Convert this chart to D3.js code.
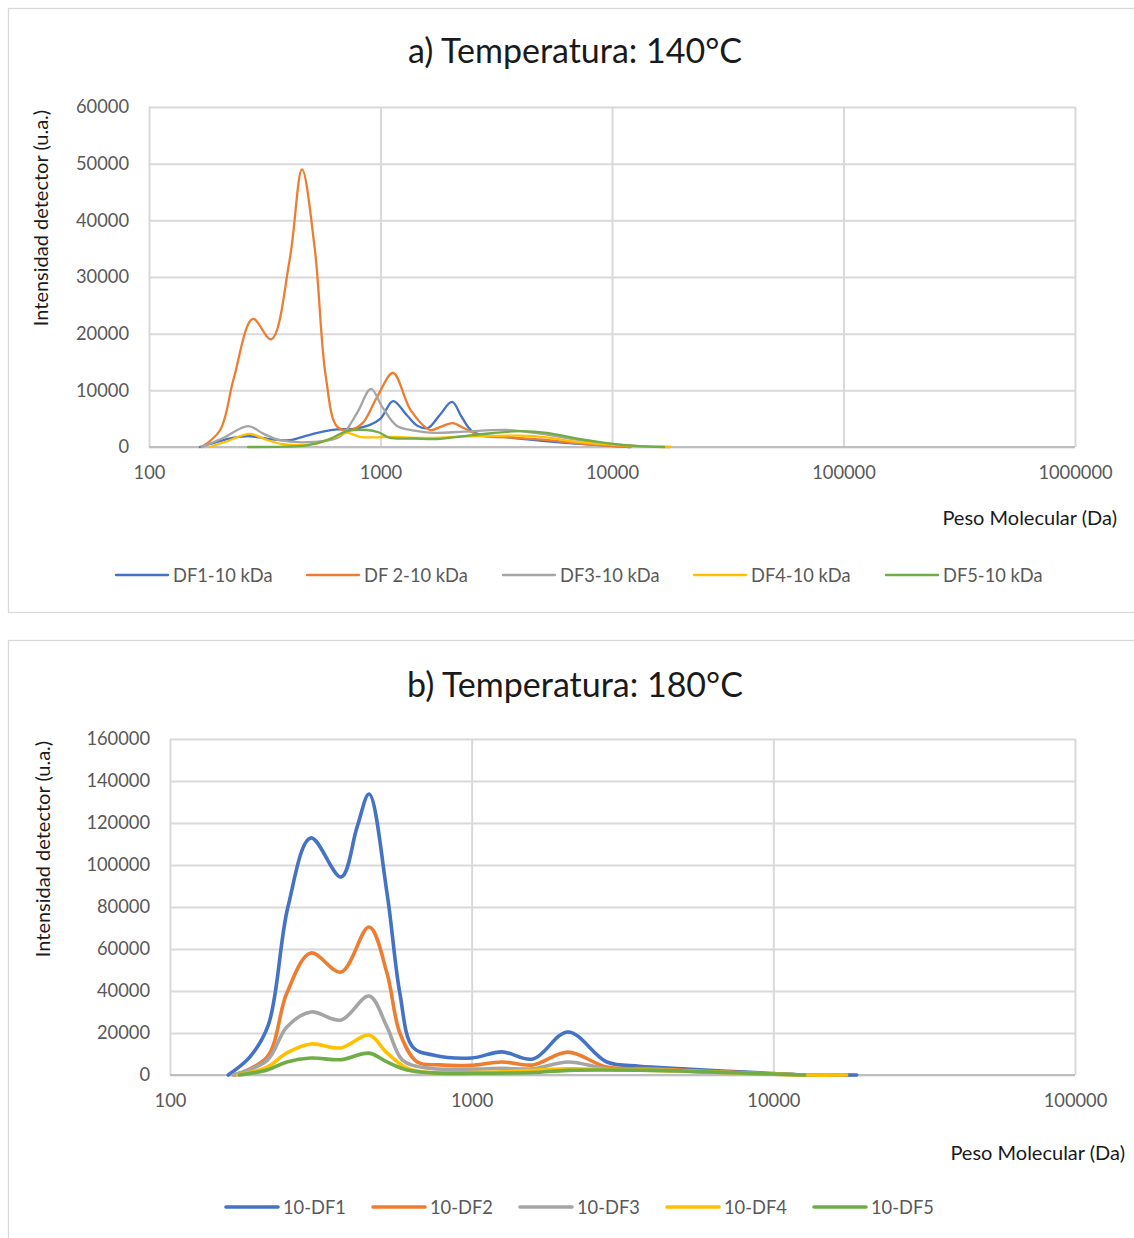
<!DOCTYPE html>
<html>
<head>
<meta charset="utf-8">
<script src="https://cdn.jsdelivr.net/npm/d3@7"></script>
<style>
  html, body { margin: 0; padding: 0; background: #fff; }
  svg { display: block; }
  text { font-family: Lato, "Open Sans", sans-serif; }
</style>
</head>
<body>
<svg id="chart" width="1134" height="1238"></svg>
<script>
// ---- Panel a) 140 °C : molecular weight (Da) vs detector intensity ----
const namesA = ["DF1-10 kDa", "DF 2-10 kDa", "DF3-10 kDa", "DF4-10 kDa", "DF5-10 kDa"];
const df1_140 = [[166,0],[197,900],[230,1600],[273,1900],[330,1400],[406,1200],[480,2000],[564,2700],[650,3100],[761,3200],[900,3900],[1000,5000],[1133,8100],[1300,5600],[1450,3700],[1603,3350],[1800,5600],[2037,7950],[2250,5200],[2513,2650],[3516,1750],[5000,1100],[7000,600],[9500,250],[12000,0]];
const df2_140 = [[169,0],[203,3000],[232,12000],[281,22600],[337,19000],[405,33000],[458,49000],[520,35000],[580,12500],[650,3600],[740,3000],[840,4300],[966,8800],[1133,13060],[1350,6500],[1637,3000],[1850,3700],[2054,4200],[2300,3300],[2700,2000],[3500,1700],[5000,1300],[7000,700],[9500,250],[12000,0]];
const df3_140 = [[169,0],[209,1600],[268,3700],[310,2400],[368,1200],[511,900],[667,1800],[792,6000],[910,10240],[1020,7000],[1178,3700],[1400,2900],[1688,2500],[2300,2700],[3516,3000],[5000,2300],[7000,1300],[10000,500],[14000,120],[17800,0]];
const df4_140 = [[183,0],[217,1000],[273,2300],[320,1300],[379,500],[511,500],[624,1600],[716,2500],[815,1800],[930,1700],[1133,1800],[1500,1600],[2500,1900],[4000,2000],[5200,1700],[6770,1000],[9500,450],[13000,120],[17800,0]];
const df5_140 = [[268,0],[380,50],[481,300],[588,1200],[716,2800],[875,3000],[980,2600],[1100,1600],[1400,1500],[1754,1400],[2500,2100],[4000,2800],[5240,2500],[7000,1500],[9500,700],[13000,150],[16800,0]];
const seriesA = [df1_140, df2_140, df3_140, df4_140, df5_140];
const yTicksA = [0, 10000, 20000, 30000, 40000, 50000, 60000];
const xTicksA = [100, 1000, 10000, 100000, 1000000];

// ---- Panel b) 180 °C ----
const namesB = ["10-DF1", "10-DF2", "10-DF3", "10-DF4", "10-DF5"];
const df1_180 = [[156,0],[184,8600],[212,24000],[246,80000],[293,112900],[369,94300],[417,118000],[457,133800],[524,86700],[578,39000],[638,13300],[745,9500],[1000,8100],[1260,11000],[1596,7600],[2085,20500],[2806,6200],[3600,4200],[5000,3000],[7000,1800],[10000,700],[13000,0],[18900,0]];
const df2_180 = [[164,0],[210,8600],[244,39000],[293,58100],[369,49000],[457,70500],[524,48500],[578,20000],[660,6200],[783,4800],[990,4600],[1260,6200],[1596,4800],[2085,10900],[2806,3800],[4000,3000],[6000,1800],[10000,500],[12500,0]];
const df3_180 = [[162,0],[210,7000],[244,22900],[293,30000],[369,26200],[457,37600],[524,22900],[590,7100],[710,3300],[1000,2800],[1260,3200],[1596,2900],[2085,6200],[2806,3000],[4000,2500],[6000,1500],[10000,400],[12500,0]];
const df4_180 = [[168,0],[210,3800],[244,10500],[293,14800],[369,12900],[457,19000],[524,10500],[610,3300],[745,1000],[1000,1200],[1260,1500],[2085,3000],[3000,2500],[5000,2000],[7000,1200],[10000,400],[12700,0],[17500,0]];
const df5_180 = [[170,0],[210,2400],[244,6200],[293,8100],[369,7300],[457,10400],[524,6200],[610,2400],[745,1000],[1000,800],[1600,1200],[2085,2200],[4000,2200],[6000,1500],[10000,500],[12700,0]];
const seriesB = [df1_180, df2_180, df3_180, df4_180, df5_180];
const yTicksB = [0, 20000, 40000, 60000, 80000, 100000, 120000, 140000, 160000];
const xTicksB = [100, 1000, 10000, 100000];

const palette = ["#4472C4", "#ED7D31", "#A5A5A5", "#FFC000", "#70AD47"];

const svg = d3.select("#chart");

function drawPanel(cfg) {
  const g = svg.append("g");

  // outer frame of the chart area
  g.append("rect")
    .attr("x", cfg.frame[0] + 0.5).attr("y", cfg.frame[1] + 0.5)
    .attr("width", cfg.frame[2]).attr("height", cfg.frame[3])
    .attr("fill", "#fff").attr("stroke", "#d9d9d9").attr("stroke-width", 1.3);

  const x = d3.scaleLog().domain(cfg.xDomain).range([cfg.left, cfg.right]);
  const y = d3.scaleLinear().domain(cfg.yDomain).range([cfg.bottom, cfg.top]);

  // horizontal gridlines + y tick labels
  const yAxis = g.append("g")
    .attr("transform", `translate(${cfg.left},0)`)
    .call(d3.axisLeft(y).tickValues(cfg.yTicks).tickFormat(d3.format("d"))
      .tickSizeInner(-(cfg.right - cfg.left)).tickSizeOuter(0).tickPadding(20));
  yAxis.select(".domain").remove();
  yAxis.selectAll(".tick line").attr("stroke", "#d9d9d9").attr("stroke-width", 2);
  yAxis.selectAll(".tick text").attr("fill", "#595959").attr("font-size", cfg.tickFont)
    .attr("font-family", "Lato, 'Open Sans', sans-serif");

  // vertical gridlines + x tick labels
  const xAxis = g.append("g")
    .attr("transform", `translate(0,${cfg.bottom})`)
    .call(d3.axisBottom(x).tickValues(cfg.xTicks).tickFormat(d3.format("d"))
      .tickSizeInner(-(cfg.bottom - cfg.top)).tickSizeOuter(0).tickPadding(19));
  xAxis.select(".domain").remove();
  xAxis.selectAll(".tick line").attr("stroke", "#d9d9d9").attr("stroke-width", 2);
  xAxis.selectAll(".tick text").attr("fill", "#595959").attr("font-size", cfg.tickFont)
    .attr("font-family", "Lato, 'Open Sans', sans-serif");

  // baseline axis
  g.append("line")
    .attr("x1", cfg.left).attr("x2", cfg.right)
    .attr("y1", y(0)).attr("y2", y(0))
    .attr("stroke", "#bfbfbf").attr("stroke-width", 2);

  // series, smoothed like the spreadsheet's "smoothed line" style
  const line = d3.line()
    .x(d => x(d[0])).y(d => Math.min(y(0), y(d[1])))
    .curve(d3.curveCatmullRom.alpha(0.5));
  cfg.series.forEach((s, i) => {
    g.append("path").datum(s)
      .attr("d", line)
      .attr("fill", "none")
      .attr("stroke", palette[i])
      .attr("stroke-width", cfg.lineWidth)
      .attr("stroke-linejoin", "round")
      .attr("stroke-linecap", "round");
  });

  // title
  g.append("text")
    .attr("x", cfg.titlePos[0]).attr("y", cfg.titlePos[1])
    .attr("text-anchor", "middle")
    .attr("font-size", 34).attr("fill", "#1a1a1a")
    .text(cfg.title);

  // y axis title
  g.append("text")
    .attr("transform", `translate(${cfg.yTitlePos[0]},${cfg.yTitlePos[1]}) rotate(-90)`)
    .attr("text-anchor", "middle")
    .attr("font-size", 20).attr("fill", "#1a1a1a")
    .text("Intensidad detector (u.a.)");

  // x axis title
  g.append("text")
    .attr("x", cfg.xTitlePos[0]).attr("y", cfg.xTitlePos[1])
    .attr("text-anchor", "end")
    .attr("font-size", 20).attr("fill", "#1a1a1a")
    .text("Peso Molecular (Da)");

  // legend
  const leg = g.append("g");
  cfg.names.forEach((n, i) => {
    const lx = cfg.legendX[i];
    leg.append("line")
      .attr("x1", lx).attr("x2", lx + cfg.legendLine)
      .attr("y1", cfg.legendY).attr("y2", cfg.legendY)
      .attr("stroke", palette[i]).attr("stroke-width", cfg.legendWidth)
      .attr("stroke-linecap", "round");
    leg.append("text")
      .attr("x", lx + cfg.legendLine + 5).attr("y", cfg.legendY)
      .attr("dy", "0.36em")
      .attr("font-size", 18.3).attr("fill", "#595959")
      .text(n);
  });
}

drawPanel({
  frame: [8, 8, 1140, 604],
  left: 149, right: 1075, top: 107, bottom: 447,
  xDomain: [100, 1000000], yDomain: [0, 60000],
  xTicks: xTicksA, yTicks: yTicksA,
  series: seriesA, names: namesA,
  tickFont: 18.3, lineWidth: 2.3,
  title: "a) Temperatura: 140°C", titlePos: [575, 63],
  yTitlePos: [48, 218], xTitlePos: [1117, 525],
  legendX: [116, 307, 503, 694, 886], legendLine: 52, legendY: 575, legendWidth: 2.3
});

drawPanel({
  frame: [8, 640, 1140, 640],
  left: 170, right: 1075, top: 739, bottom: 1075,
  xDomain: [100, 100000], yDomain: [0, 160000],
  xTicks: xTicksB, yTicks: yTicksB,
  series: seriesB, names: namesB,
  tickFont: 18.3, lineWidth: 3.6,
  title: "b) Temperatura: 180°C", titlePos: [575, 697],
  yTitlePos: [50, 849], xTitlePos: [1125, 1160],
  legendX: [226, 373, 520, 667, 814], legendLine: 52, legendY: 1207, legendWidth: 3.6
});
</script>
</body>
</html>
